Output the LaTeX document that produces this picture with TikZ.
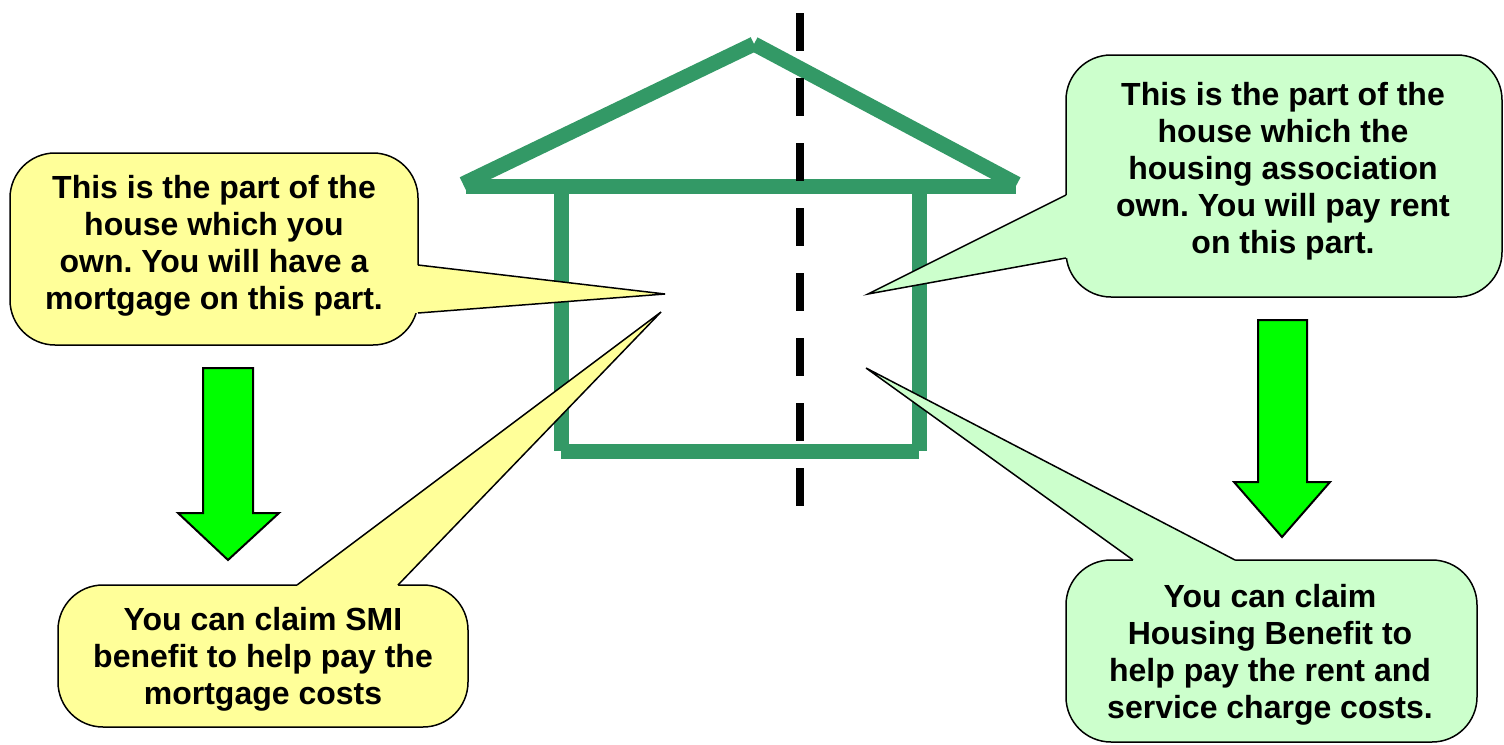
\documentclass[tikz,border=0pt]{standalone}
\usepackage{fontspec}
\setmainfont{Liberation Sans}
\frenchspacing
\definecolor{housegreen}{HTML}{339966}
\definecolor{calloutyellow}{HTML}{FFFF99}
\definecolor{calloutgreen}{HTML}{CCFFCC}
\definecolor{arrowgreen}{HTML}{00FF00}
\tikzset{
  houseline/.style={draw=housegreen, line width=15pt, line cap=butt},
  dividerline/.style={draw=black, line width=8pt, dash pattern=on 38pt off 27pt},
  calloutbox/.style={draw=black, line width=1.5pt, rounded corners=45pt},
  pointeredge/.style={draw=black, line width=1.5pt, line join=miter},
  calltext/.style={align=center, inner sep=0pt, font=\fontsize{32}{37}\selectfont\bfseries},
  downarrow/.style={fill=arrowgreen, draw=black, line width=2pt, line join=miter},
}
\begin{document}
\begin{tikzpicture}[x=1pt,y=-1pt]
\useasboundingbox (0,0) rectangle (1504,744);

% house
\draw[houseline] (466,186) -- (1016,186);
\draw[houseline] (463,184) -- (754,44);
\draw[houseline] (754,44) -- (1017,184);
\draw[houseline] (561,193) -- (561,451);
\draw[houseline] (919,193) -- (919,451);
\draw[houseline] (561,451) -- (919,451);

% dividing line
\draw[dividerline] (800,13) -- (800,508);

% top-left callout
\draw[calloutbox, fill=calloutyellow] (10,153) rectangle (418,345);
\fill[calloutyellow] (418,265) -- (665,294) -- (418,313) -- (410,313) -- (410,265) -- cycle;
\draw[pointeredge] (418,265) -- (665,294) -- (418,313);
\node[calltext] (tl) at (214,246) {This is the part of the\\house which you\\own. You will have a\\mortgage on this part.};

% bottom-left callout
\draw[calloutbox, fill=calloutyellow] (58,585) rectangle (468,727);
\fill[calloutyellow] (297,585) -- (661,312) -- (398,585) -- (398,593) -- (297,593) -- cycle;
\draw[pointeredge] (297,585) -- (661,312) -- (398,585);
\node[calltext] (bl) at (263,659) {You can claim SMI\\benefit to help pay the\\mortgage costs};

% top-right callout
\draw[calloutbox, fill=calloutgreen] (1066,55) rectangle (1502,297);
\fill[calloutgreen] (1066,195) -- (868,294) -- (1066,258) -- (1074,258) -- (1074,195) -- cycle;
\draw[pointeredge] (1066,195) -- (868,294) -- (1066,258);
\node[calltext] (tr) at (1283,171) {This is the part of the\\house which the\\housing association\\own. You will pay rent\\on this part.};

% bottom-right callout
\draw[calloutbox, fill=calloutgreen] (1066,560) rectangle (1477,742);
\fill[calloutgreen] (1133,560) -- (866,368) -- (1235,560) -- (1235,568) -- (1133,568) -- cycle;
\draw[pointeredge] (1133,560) -- (866,368) -- (1235,560);
\node[calltext] (br) at (1270,655) {You can claim\\Housing Benefit to\\help pay the rent and\\service charge costs.};

% arrows
\draw[downarrow] (203,368) -- (253,368) -- (253,513) -- (279,513) -- (228,560) -- (178,513) -- (203,513) -- cycle;
\draw[downarrow] (1258,320) -- (1307,320) -- (1307,482) -- (1330,482) -- (1282,537) -- (1234,482) -- (1258,482) -- cycle;
\end{tikzpicture}
\end{document}
